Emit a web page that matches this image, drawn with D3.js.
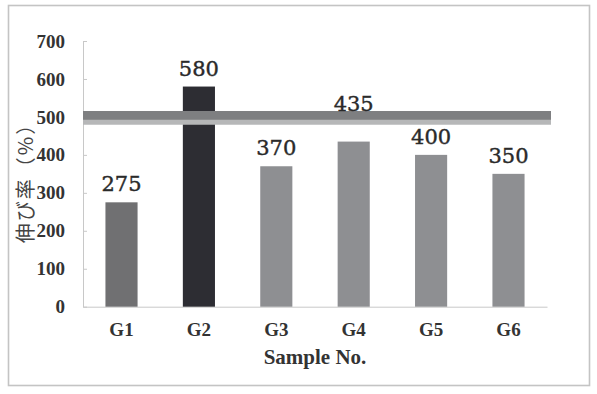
<!DOCTYPE html>
<html>
<head>
<meta charset="utf-8">
<script src="https://cdn.jsdelivr.net/npm/d3@7"></script>
<style>
  body { margin: 0; background: #fff; }
  svg { display: block; }
</style>
</head>
<body>
<svg id="chart" width="597" height="394"></svg>
<script>
const categories = ["G1", "G2", "G3", "G4", "G5", "G6"]
const values = [275, 580, 370, 435, 400, 350]
const barColors = ["#707072", "#2d2d33", "#8e8f92", "#8e8f92", "#8e8f92", "#8e8f92"]
const yTicks = [0, 100, 200, 300, 400, 500, 600, 700]
// reference band near 500 %: darker upper stripe, lighter lower stripe
const refLines = [
  {value: 504, color: "#7e7f81", width: 9},
  {value: 486, color: "#b6b7b8", width: 5},
]

const svg = d3.select("#chart")
const m = {left: 83, top: 41}
const iw = 547 - m.left
const ih = 306.7 - m.top
const serif = "'Liberation Serif', 'Times New Roman', serif"

// outer frame
svg.append("rect")
  .attr("x", 8.5).attr("y", 5.5)
  .attr("width", 581).attr("height", 380)
  .attr("fill", "#fff")
  .attr("stroke", "#c4c4c4")
  .attr("stroke-width", 1.6)

const g = svg.append("g").attr("transform", `translate(${m.left},${m.top})`)

const x = d3.scaleBand().domain(categories).range([0, iw]).paddingInner(0.585).paddingOuter(0.29)
const y = d3.scaleLinear().domain([0, 700]).range([ih, 0])

// y axis
g.append("g")
  .call(d3.axisLeft(y).tickValues(yTicks).tickSizeInner(-4).tickSizeOuter(0).tickPadding(18))
  .call((a) => a.select(".domain").attr("stroke", "#c8c8c8"))
  .call((a) => a.selectAll(".tick line").attr("stroke", "#c8c8c8"))
  .call((a) => a.selectAll("text")
    .attr("font-family", serif)
    .attr("font-weight", "bold")
    .attr("font-size", 19)
    .attr("fill", "#333"))

// x axis
g.append("g")
  .attr("transform", `translate(0,${ih})`)
  .call(d3.axisBottom(x).tickSize(0).tickPadding(16))
  .call((a) => a.select(".domain").attr("stroke", "#c8c8c8"))
  .call((a) => a.selectAll("text")
    .attr("font-family", serif)
    .attr("font-weight", "bold")
    .attr("font-size", 19)
    .attr("fill", "#333"))

// bars
g.append("g")
  .selectAll("rect")
  .data(values)
  .join("rect")
  .attr("x", (d, i) => x(categories[i]))
  .attr("y", (d) => y(d))
  .attr("width", x.bandwidth())
  .attr("height", (d) => ih - y(d))
  .attr("fill", (d, i) => barColors[i])

// reference band
g.append("g")
  .selectAll("line")
  .data(refLines)
  .join("line")
  .attr("x1", 0)
  .attr("x2", iw + 4)
  .attr("y1", (d) => y(d.value))
  .attr("y2", (d) => y(d.value))
  .attr("stroke", (d) => d.color)
  .attr("stroke-width", (d) => d.width)

// value labels, lifted above the band if they would collide with it
const bandTop = y(refLines[0].value) - refLines[0].width / 2
const bandBottom = y(refLines[1].value) + refLines[1].width / 2
g.append("g")
  .selectAll("text")
  .data(values)
  .join("text")
  .attr("x", (d, i) => x(categories[i]) + x.bandwidth() / 2)
  .attr("y", (d) => {
    const base = y(d) - 11
    return base > bandTop && base - 16 < bandBottom ? bandTop : base
  })
  .attr("text-anchor", "middle")
  .attr("font-family", "'DejaVu Serif', serif")
  .attr("font-size", 21)
  .attr("fill", "#2a2a2a")
  .attr("stroke", "#2a2a2a")
  .attr("stroke-width", 0.4)
  .text((d) => d)

// axis titles
svg.append("text")
  .attr("x", (m.left + 547) / 2)
  .attr("y", 364)
  .attr("text-anchor", "middle")
  .attr("font-family", serif)
  .attr("font-weight", "bold")
  .attr("font-size", 21)
  .attr("fill", "#333")
  .text("Sample No.")

svg.append("text")
  .attr("transform", "translate(33,178) rotate(-90)")
  .attr("text-anchor", "middle")
  .attr("font-family", "'Noto Sans CJK JP', sans-serif")
  .attr("font-size", 20)
  .attr("letter-spacing", 2)
  .attr("fill", "#444")
  .text("伸び率（%）")
</script>
</body>
</html>
